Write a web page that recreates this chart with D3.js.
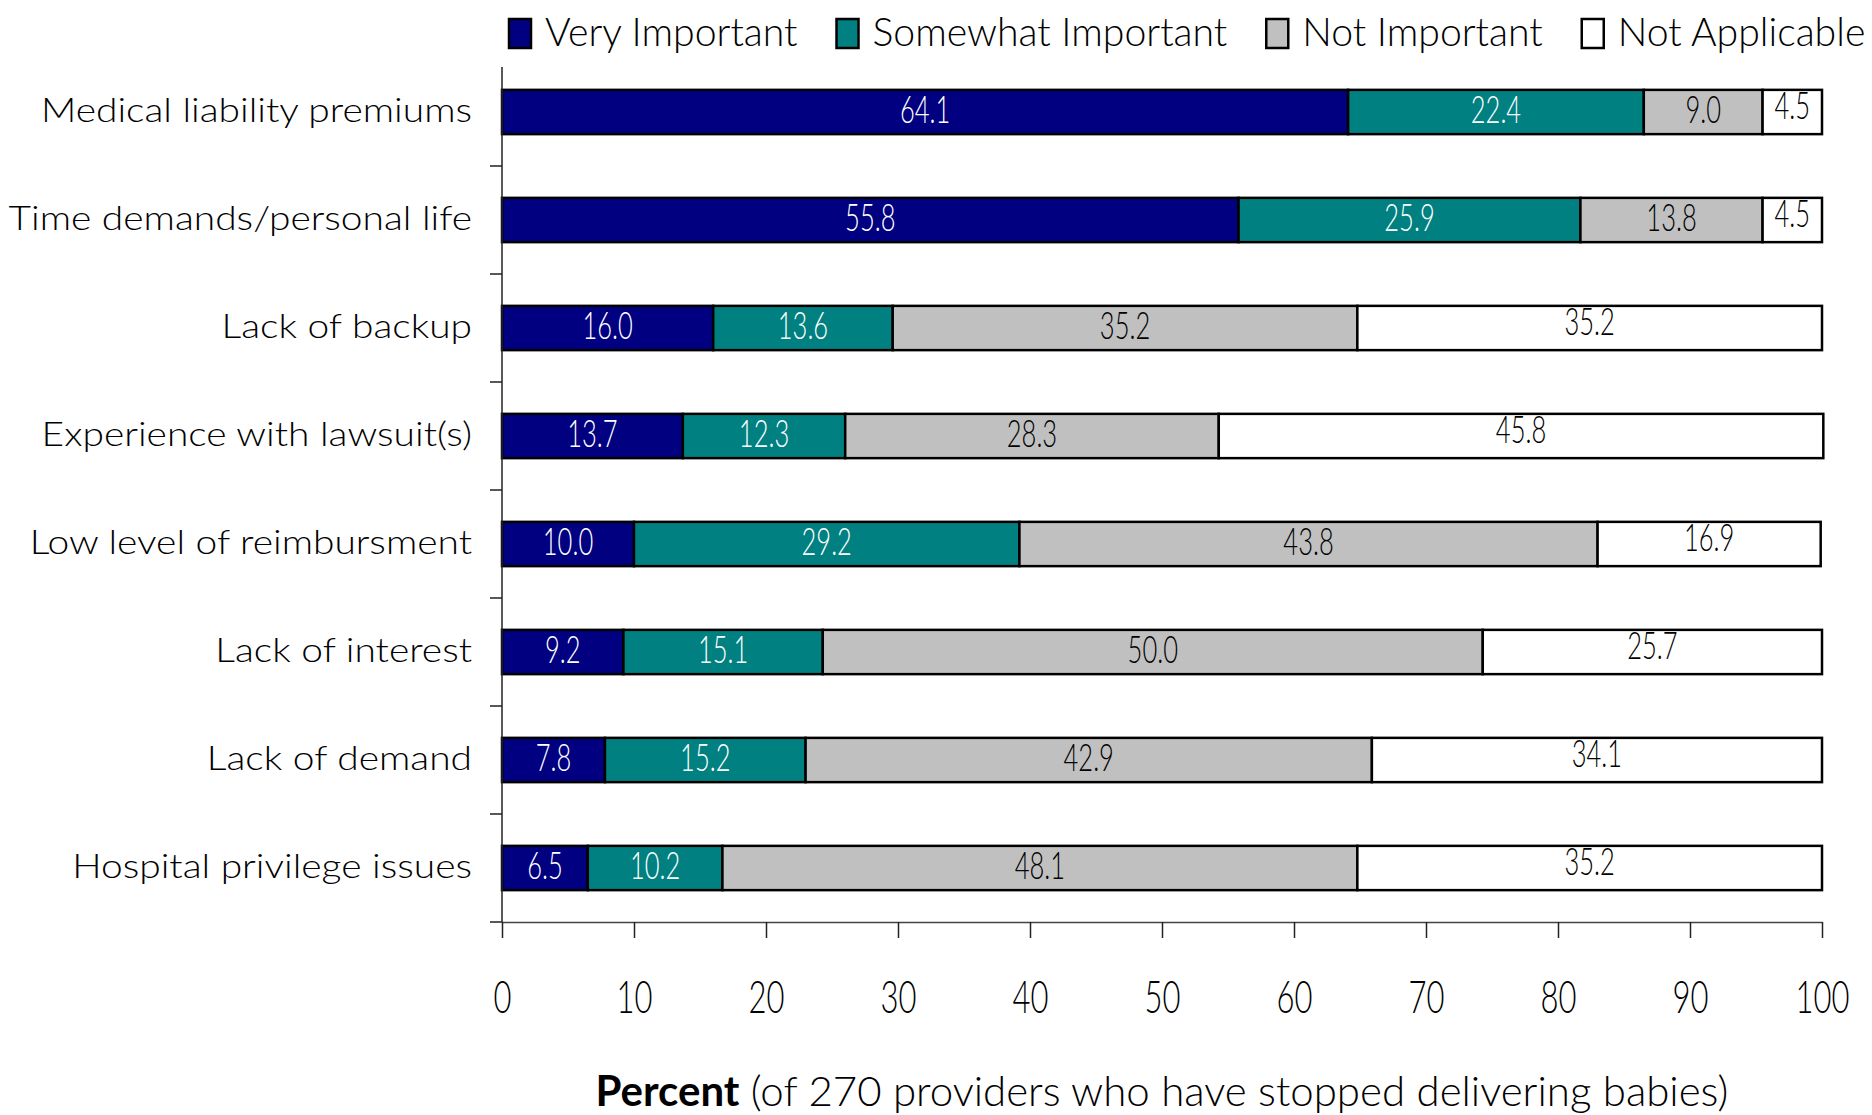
<!DOCTYPE html>
<html>
<head>
<meta charset="utf-8">
<script src="https://cdn.jsdelivr.net/npm/d3@7"></script>
<style>
body { margin: 0; background: #fff; }
svg { display: block; }
text { font-family: Lato, "DejaVu Sans", sans-serif; font-weight: 300; }
</style>
</head>
<body>
<div id="chart-area"></div>
<script>

// Data
var categories = ["Medical liability premiums", "Time demands/personal life", "Lack of backup",
    "Experience with lawsuit(s)", "Low level of reimbursment", "Lack of interest",
    "Lack of demand", "Hospital privilege issues"];
var seriesNames = ["Very Important", "Somewhat Important", "Not Important", "Not Applicable"];
var veryImportant = [64.1, 55.8, 16.0, 13.7, 10.0, 9.2, 7.8, 6.5];
var somewhatImportant = [22.4, 25.9, 13.6, 12.3, 29.2, 15.1, 15.2, 10.2];
var notImportant = [9.0, 13.8, 35.2, 28.3, 43.8, 50.0, 42.9, 48.1];
var notApplicable = [4.5, 4.5, 35.2, 45.8, 16.9, 25.7, 34.1, 35.2];
var xTicks = [0, 10, 20, 30, 40, 50, 60, 70, 80, 90, 100];
var titleBold = "Percent";
var titleRest = " (of 270 providers who have stopped delivering babies)";

var seriesValues = [veryImportant, somewhatImportant, notImportant, notApplicable];
var colors = ["#000080", "#008080", "#c0c0c0", "#ffffff"];
var labelColors = ["#ffffff", "#ffffff", "#000000", "#000000"];
var labelShift = [11, 11, 11, 7];

var width = 1872, height = 1115;

var svg = d3.select("#chart-area").append("svg")
    .attr("width", width)
    .attr("height", height);

// rows for the stack layout
var rows = categories.map(function(c, i) {
    var r = {cat: c};
    seriesNames.forEach(function(s, j) { r[s] = seriesValues[j][i]; });
    return r;
});
var stacked = d3.stack().keys(seriesNames)(rows);

// Scales
var x = d3.scaleLinear().domain([0, 100]).range([502, 1822]);
var y = d3.scaleBand().domain(categories).range([58, 922])
    .paddingInner(0.59).paddingOuter(0.295);

// Bars
var layers = svg.selectAll(".layer")
    .data(stacked)
    .enter().append("g")
    .attr("class", "layer")
    .attr("fill", function(d, i) { return colors[i]; });

layers.selectAll("rect")
    .data(function(d) { return d; })
    .enter().append("rect")
    .attr("x", function(d) { return x(d[0]); })
    .attr("y", function(d) { return y(d.data.cat); })
    .attr("width", function(d) { return x(d[1]) - x(d[0]); })
    .attr("height", y.bandwidth())
    .attr("stroke", "#000")
    .attr("stroke-width", 2.5);

// Bar labels
layers.each(function(layer, i) {
    d3.select(this).selectAll("text")
        .data(layer)
        .enter().append("text")
        .attr("transform", function(d) {
            var cx = x((d[0] + d[1]) / 2);
            var cy = y(d.data.cat) + y.bandwidth() / 2 + labelShift[i];
            return "translate(" + cx + "," + cy + ") scale(0.69,1)";
        })
        .attr("text-anchor", "middle")
        .attr("font-size", 37)
        .attr("fill", labelColors[i])
        .text(function(d) { return d.data[layer.key].toFixed(1); });
});

// Y axis
var yAxis = d3.axisLeft(y).tickSize(0).tickSizeOuter(0);
var gy = svg.append("g")
    .attr("transform", "translate(" + x(0) + ",0)")
    .call(yAxis);
gy.select(".domain")
    .attr("d", "M0," + (y.range()[0] + 9) + "V" + y.range()[1])
    .attr("stroke", "#222").attr("stroke-width", 1.5);
gy.selectAll(".tick text")
    .attr("x", null)
    .attr("dy", null)
    .attr("transform", "translate(-30,10) scale(1.145,1)")
    .attr("font-size", 34)
    .attr("fill", "#000");

// tick marks between categories
svg.selectAll(".cat-tick")
    .data(categories)
    .enter().append("line")
    .attr("class", "cat-tick")
    .attr("x1", x(0) - 12)
    .attr("x2", x(0))
    .attr("y1", function(d) { return y(d) + y.bandwidth() + y.step() * y.paddingInner() / 2; })
    .attr("y2", function(d) { return y(d) + y.bandwidth() + y.step() * y.paddingInner() / 2; })
    .attr("stroke", "#222")
    .attr("stroke-width", 1.5);

// X axis
var xAxis = d3.axisBottom(x).tickValues(xTicks).tickSize(16).tickSizeOuter(0)
    .tickFormat(d3.format("d"));
var gx = svg.append("g")
    .attr("transform", "translate(0," + y.range()[1] + ")")
    .call(xAxis);
gx.select(".domain").attr("stroke", "#444").attr("stroke-width", 1.5);
gx.selectAll(".tick line").attr("stroke", "#222").attr("stroke-width", 1.5);
gx.selectAll(".tick text")
    .attr("dy", null)
    .attr("y", 0)
    .attr("transform", "translate(0,91) scale(0.69,1)")
    .attr("font-size", 45)
    .attr("fill", "#000");

// X title
var title = svg.append("text")
    .attr("transform", "translate(1162,1106) scale(1.0,1)")
    .attr("text-anchor", "middle")
    .attr("font-size", 42);
title.append("tspan").attr("font-weight", "bold").text(titleBold);
title.append("tspan").text(titleRest);

// Legend
var legend = svg.append("g").attr("class", "legend");
var cursor = 509;
seriesNames.forEach(function(name, i) {
    legend.append("rect")
        .attr("x", cursor)
        .attr("y", 19)
        .attr("width", 22)
        .attr("height", 29)
        .attr("fill", colors[i])
        .attr("stroke", "#000")
        .attr("stroke-width", 2.5);
    var t = legend.append("text")
        .attr("transform", "translate(" + (cursor + 36) + ",46) scale(0.98,1)")
        .attr("font-size", 40)
        .text(name);
    cursor += 36 + t.node().getComputedTextLength() * 0.98 + 39;
});

</script>
</body>
</html>
